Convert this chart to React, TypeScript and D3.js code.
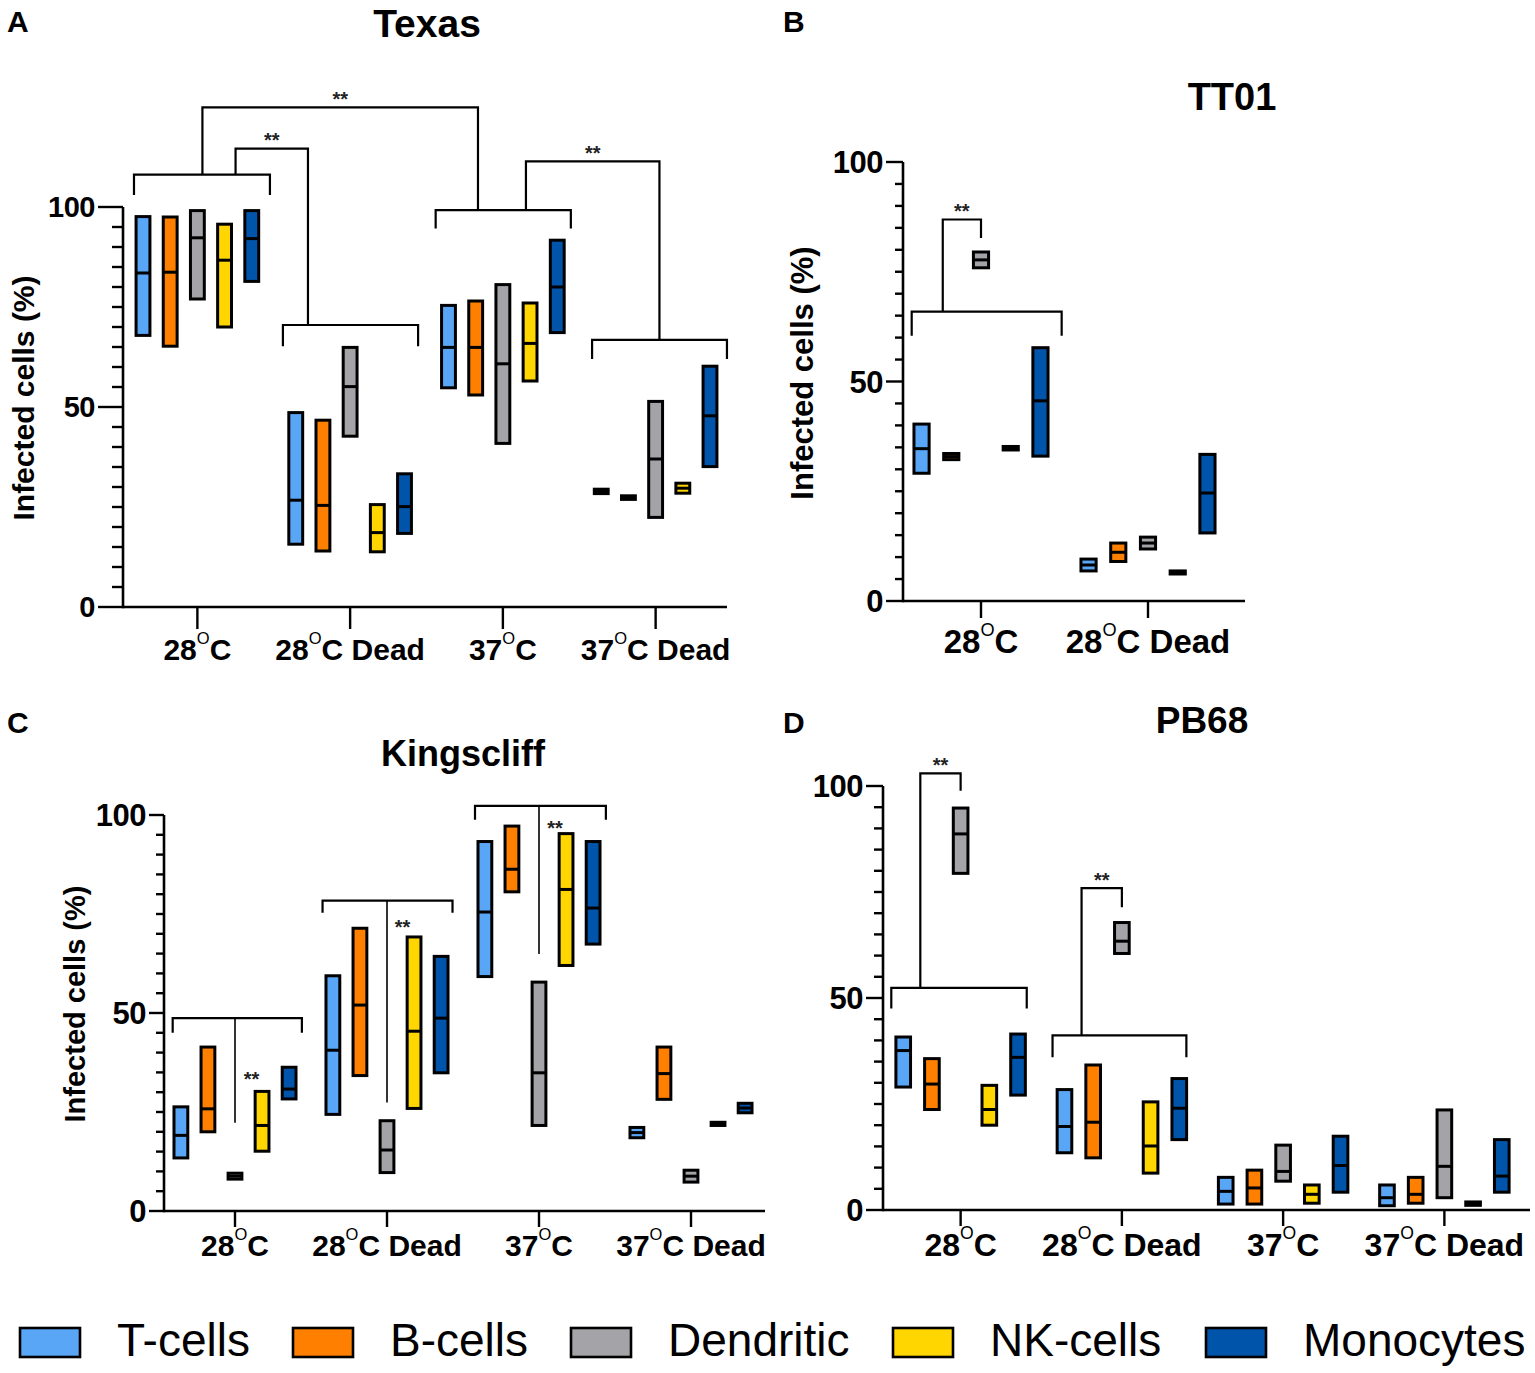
import React from "react";
import * as d3 from "d3";

const FONT = "'Liberation Sans', Arial, Helvetica, sans-serif";

const cellTypes = ["T-cells", "B-cells", "Dendritic", "NK-cells", "Monocytes"];
const cellColors = ["#5AA6F6", "#FF8000", "#A4A4A8", "#FFD600", "#0055AA"];
const conditionLabels = ["28|C", "28|C Dead", "37|C", "37|C Dead"]; // '|' = superscript O
const tt01Labels = ["28|C", "28|C Dead"];
const yTickLabels = [0, 50, 100];

// ---- Texas: [condition][cell type]
const texasLow = [
  [67.9, 65.2, 77.0, 70.0, 81.4],
  [15.7, 14.0, 42.7, 13.8, 18.4],
  [54.8, 53.0, 40.9, 56.5, 68.6],
  [28.35, 26.9, 22.4, 28.45, 35.1],
];
const texasMid = [
  [83.5, 83.7, 92.3, 86.7, 92.1],
  [26.7, 25.4, 55.1, 18.6, 25.1],
  [64.9, 64.9, 60.8, 65.9, 80.0],
  [28.9, 27.35, 37.0, 29.7, 47.8],
];
const texasHigh = [
  [97.6, 97.5, 99.1, 95.7, 99.1],
  [48.6, 46.7, 64.9, 25.6, 33.3],
  [75.4, 76.5, 80.6, 76.0, 91.7],
  [29.45, 27.8, 51.4, 30.95, 60.2],
];

// ---- TT01
const tt01Low = [
  [29.1, 32.2, 75.9, 34.4, 33.0],
  [6.85, 9.0, 11.85, 6.15, 15.5],
];
const tt01Mid = [
  [34.7, 32.9, 77.7, 34.8, 45.6],
  [8.2, 11.1, 13.2, 6.5, 24.6],
];
const tt01High = [
  [40.3, 33.6, 79.5, 35.2, 57.7],
  [9.55, 13.2, 14.55, 6.85, 33.4],
];

// ---- Kingscliff
const kingLow = [
  [13.4, 20.0, 8.05, 15.1, 28.3],
  [24.4, 34.2, 9.7, 25.9, 34.9],
  [59.2, 80.6, 21.6, 62.0, 67.4],
  [18.5, 28.2, 7.3, 21.6, 24.8],
];
const kingMid = [
  [19.1, 25.8, 8.8, 21.6, 30.8],
  [40.6, 52.0, 15.4, 45.4, 48.7],
  [75.5, 86.3, 34.9, 81.2, 76.5],
  [19.8, 34.7, 8.8, 22.0, 26.0],
];
const kingHigh = [
  [26.3, 41.4, 9.55, 30.2, 36.3],
  [59.4, 71.4, 22.8, 69.2, 64.3],
  [93.3, 97.2, 57.8, 95.3, 93.3],
  [21.1, 41.4, 10.3, 22.4, 27.2],
];

// ---- PB68
const pbLow = [
  [29.0, 23.7, 79.4, 20.0, 27.1],
  [13.5, 12.3, 60.5, 8.7, 16.6],
  [1.4, 1.4, 6.8, 1.6, 4.2],
  [1.0, 1.6, 2.9, 1.1, 4.2],
];
const pbMid = [
  [37.6, 29.7, 88.7, 23.7, 36.0],
  [19.7, 20.7, 63.4, 15.1, 24.0],
  [4.4, 5.2, 9.1, 3.7, 10.5],
  [2.9, 3.7, 10.3, 1.5, 8.0],
];
const pbHigh = [
  [40.8, 35.7, 94.8, 29.4, 41.5],
  [28.4, 34.2, 67.8, 25.5, 31.0],
  [7.7, 9.4, 15.3, 5.9, 17.4],
  [5.9, 7.7, 23.6, 1.9, 16.6],
];

// ---- significance annotations (data units; x as fraction of band from category centre)
type Bracket = { cat: number; x0: number; x1: number; y: number; leg: number };
type Link = { fromCat: number; fromX: number; fromY: number; top: number; toCat: number; toX: number; toY: number };
type Stem = { cat: number; from: number; to: number; starX: number; starY: number };

const texasBrackets: Bracket[] = [
  { cat: 0, x0: -0.415, x1: 0.475, y: 108.1, leg: 103 },
  { cat: 1, x0: -0.44, x1: 0.445, y: 70.5, leg: 65.2 },
  { cat: 2, x0: -0.44, x1: 0.445, y: 99.2, leg: 94.6 },
  { cat: 3, x0: -0.416, x1: 0.467, y: 66.8, leg: 62 },
];
const texasLinks: Link[] = [
  { fromCat: 0, fromX: 0.25, fromY: 108.1, top: 114.6, toCat: 1, toX: -0.276, toY: 70.5 },
  { fromCat: 0, fromX: 0.033, fromY: 108.1, top: 124.9, toCat: 2, toX: -0.163, toY: 99.2 },
  { fromCat: 2, fromX: 0.151, fromY: 99.2, top: 111.4, toCat: 3, toX: 0.025, toY: 66.8 },
];
const tt01Brackets: Bracket[] = [{ cat: 0, x0: -0.415, x1: 0.483, y: 65.9, leg: 60.4 }];
const tt01Links: Link[] = [
  { fromCat: 0, fromX: -0.229, fromY: 65.9, top: 86.9, toCat: 0, toX: 0, toY: 82.7 },
];
const kingBrackets: Bracket[] = [
  { cat: 0, x0: -0.41, x1: 0.44, y: 48.7, leg: 45 },
  { cat: 1, x0: -0.424, x1: 0.431, y: 78.4, leg: 75.3 },
  { cat: 2, x0: -0.421, x1: 0.44, y: 102.3, leg: 98.8 },
];
const kingStems: Stem[] = [
  { cat: 0, from: 48.7, to: 22.3, starX: 0.109, starY: 34.5 },
  { cat: 1, from: 78.4, to: 27.4, starX: 0.102, starY: 73 },
  { cat: 2, from: 102.3, to: 64.9, starX: 0.105, starY: 97.9 },
];
const pbBrackets: Bracket[] = [
  { cat: 0, x0: -0.43, x1: 0.41, y: 52.4, leg: 47.5 },
  { cat: 1, x0: -0.43, x1: 0.4, y: 41.2, leg: 36 },
];
const pbLinks: Link[] = [
  { fromCat: 0, fromX: -0.25, fromY: 52.4, top: 103.0, toCat: 0, toX: 0, toY: 98.9 },
  { fromCat: 1, fromX: -0.25, fromY: 41.2, top: 75.9, toCat: 1, toX: 0, toY: 71.4 },
];

// ---- layout
type Layout = {
  band: [number, number];
  axisX: number;
  axisEnd: number;
  y0: number;
  y100: number;
  major: number;
  minor: number;
  tickFont: number;
  catFont: number;
  catBase: number;
  catTick: number;
  title: [number, number, number];
  yLabel: [number, number, number] | null;
  letter: [number, number];
};

type PanelCfg = {
  letter: string;
  title: string;
  cats: string[];
  low: number[][];
  mid: number[][];
  high: number[][];
  brackets: Bracket[];
  links: Link[];
  stems: Stem[];
  layout: Layout;
};

const panels: PanelCfg[] = [
  {
    letter: "A", title: "Texas", cats: conditionLabels,
    low: texasLow, mid: texasMid, high: texasHigh,
    brackets: texasBrackets, links: texasLinks, stems: [],
    layout: {
      band: [121, 732], axisX: 123, axisEnd: 727, y0: 607, y100: 207,
      major: 25, minor: 11, tickFont: 29, catFont: 30, catBase: 660, catTick: 22,
      title: [427, 37, 39], yLabel: [23, 398, 30], letter: [7, 32],
    },
  },
  {
    letter: "B", title: "TT01", cats: tt01Labels,
    low: tt01Low, mid: tt01Mid, high: tt01High,
    brackets: tt01Brackets, links: tt01Links, stems: [],
    layout: {
      band: [897.5, 1231.5], axisX: 903, axisEnd: 1245, y0: 601, y100: 162,
      major: 17, minor: 8, tickFont: 31, catFont: 33, catBase: 653, catTick: 17,
      title: [1232, 110, 38], yLabel: [802, 373, 31], letter: [783, 32],
    },
  },
  {
    letter: "C", title: "Kingscliff", cats: conditionLabels,
    low: kingLow, mid: kingMid, high: kingHigh,
    brackets: kingBrackets, links: [], stems: kingStems,
    layout: {
      band: [159, 767], axisX: 164, axisEnd: 765, y0: 1211, y100: 815,
      major: 15, minor: 8, tickFont: 31, catFont: 30, catBase: 1256, catTick: 16,
      title: [463, 766, 36], yLabel: [75, 1004, 29], letter: [7, 733],
    },
  },
  {
    letter: "D", title: "PB68", cats: conditionLabels,
    low: pbLow, mid: pbMid, high: pbHigh,
    brackets: pbBrackets, links: pbLinks, stems: [],
    layout: {
      band: [880, 1525], axisX: 883, axisEnd: 1530, y0: 1210, y100: 786,
      major: 17, minor: 9, tickFont: 31, catFont: 32, catBase: 1256, catTick: 16,
      title: [1202, 733, 37], yLabel: null, letter: [783, 733],
    },
  },
];

const legendX = [20, 293, 571, 893, 1206];

const STAR_FONT = 20;
const starBaseline = (cy: number) => cy + STAR_FONT * 0.59;

function CatLabel({ x, y, label, size }: { x: number; y: number; label: string; size: number }) {
  const [a, b] = label.split("|");
  const raise = size * 0.52;
  return (
    <text x={x} y={y} textAnchor="middle" fontFamily={FONT} fontWeight="bold" fontSize={size} fill="#000">
      <tspan>{a}</tspan>
      <tspan dy={-raise} fontSize={size * 0.55} fontWeight="normal">O</tspan>
      <tspan dy={raise}>{b}</tspan>
    </text>
  );
}

function Panel({ cfg }: { cfg: PanelCfg }) {
  const L = cfg.layout;
  const x = d3.scaleBand<string>().domain(cfg.cats).range(L.band);
  const bw = x.bandwidth();
  const cx = (i: number) => (x(cfg.cats[i]) as number) + bw / 2;
  const inner = d3
    .scaleBand<string>()
    .domain(cellTypes)
    .range([-0.445 * bw, 0.445 * bw])
    .paddingInner(0.49)
    .paddingOuter(0.245);
  const y = d3.scaleLinear().domain([0, 100]).range([L.y0, L.y100]);
  const ticks = y.ticks(20);
  const ax = (cat: number, f: number) => cx(cat) + f * bw;

  return (
    <g>
      <text x={L.letter[0]} y={L.letter[1]} fontFamily={FONT} fontWeight="bold" fontSize={30}>
        {cfg.letter}
      </text>
      <text x={L.title[0]} y={L.title[1]} textAnchor="middle" fontFamily={FONT} fontWeight="bold" fontSize={L.title[2]}>
        {cfg.title}
      </text>
      {L.yLabel && (
        <text
          transform={`translate(${L.yLabel[0]},${L.yLabel[1]}) rotate(-90)`}
          textAnchor="middle"
          dominantBaseline="central"
          fontFamily={FONT}
          fontWeight="bold"
          fontSize={L.yLabel[2]}
        >
          Infected cells (%)
        </text>
      )}

      {/* y axis */}
      <line x1={L.axisX} x2={L.axisX} y1={y(0) + 1.3} y2={y(100)} stroke="#000" strokeWidth={2.6} />
      {ticks.map((t) => {
        const major = yTickLabels.includes(t);
        return (
          <line
            key={t}
            x1={L.axisX - (major ? L.major : L.minor)}
            x2={L.axisX}
            y1={y(t)}
            y2={y(t)}
            stroke="#000"
            strokeWidth={2.4}
          />
        );
      })}
      {yTickLabels.map((t) => (
        <text
          key={t}
          x={L.axisX - L.major - 3}
          y={y(t)}
          dy="0.36em"
          textAnchor="end"
          fontFamily={FONT}
          fontWeight="bold"
          fontSize={L.tickFont}
          letterSpacing={-0.5}
        >
          {t}
        </text>
      ))}

      {/* x axis */}
      <line x1={L.axisX} x2={L.axisEnd} y1={y(0)} y2={y(0)} stroke="#000" strokeWidth={2.6} />
      {cfg.cats.map((c, i) => (
        <g key={c}>
          <line x1={cx(i)} x2={cx(i)} y1={y(0)} y2={y(0) + L.catTick} stroke="#000" strokeWidth={2.4} />
          <CatLabel x={cx(i)} y={L.catBase} label={c} size={L.catFont} />
        </g>
      ))}

      {/* floating bars (min–max with median line) */}
      {cfg.cats.map((c, ci) =>
        cellTypes.map((t, ti) => {
          const lo = cfg.low[ci][ti];
          const hi = cfg.high[ci][ti];
          const md = cfg.mid[ci][ti];
          const bx = cx(ci) + (inner(t) as number);
          const w = inner.bandwidth();
          return (
            <g key={c + t}>
              <rect
                x={bx}
                y={y(hi)}
                width={w}
                height={y(lo) - y(hi)}
                fill={cellColors[ti]}
                stroke="#000"
                strokeWidth={3}
              />
              <line x1={bx} x2={bx + w} y1={y(md)} y2={y(md)} stroke="#000" strokeWidth={3} />
            </g>
          );
        })
      )}

      {/* brackets */}
      {cfg.brackets.map((b, i) => {
        const x0 = ax(b.cat, b.x0);
        const x1 = ax(b.cat, b.x1);
        const path = d3.path();
        path.moveTo(x0, y(b.leg));
        path.lineTo(x0, y(b.y));
        path.lineTo(x1, y(b.y));
        path.lineTo(x1, y(b.leg));
        return <path key={"b" + i} d={path.toString()} fill="none" stroke="#000" strokeWidth={2.2} />;
      })}
      {cfg.links.map((l, i) => {
        const xa = ax(l.fromCat, l.fromX);
        const xb = ax(l.toCat, l.toX);
        const path = d3.path();
        path.moveTo(xa, y(l.fromY));
        path.lineTo(xa, y(l.top));
        path.lineTo(xb, y(l.top));
        path.lineTo(xb, y(l.toY));
        return (
          <g key={"l" + i}>
            <path d={path.toString()} fill="none" stroke="#000" strokeWidth={2.2} />
            <text
              x={(xa + xb) / 2}
              y={starBaseline(y(l.top) - 13)}
              textAnchor="middle"
              fontFamily={FONT}
              fontWeight="bold"
              fontSize={STAR_FONT}
              fill="#222"
            >
              **
            </text>
          </g>
        );
      })}
      {cfg.stems.map((s, i) => (
        <g key={"s" + i}>
          <line x1={cx(s.cat)} x2={cx(s.cat)} y1={y(s.from)} y2={y(s.to)} stroke="#000" strokeWidth={1.6} />
          <text
            x={ax(s.cat, s.starX)}
            y={starBaseline(y(s.starY))}
            textAnchor="middle"
            fontFamily={FONT}
            fontWeight="bold"
            fontSize={STAR_FONT}
            fill="#222"
          >
            **
          </text>
        </g>
      ))}
    </g>
  );
}

function Legend() {
  return (
    <g>
      {cellTypes.map((t, i) => (
        <g key={t}>
          <rect x={legendX[i]} y={1328} width={60} height={29} fill={cellColors[i]} stroke="#000" strokeWidth={2.6} />
          <text x={legendX[i] + 97} y={1356} fontFamily={FONT} fontSize={46} fill="#000">
            {t}
          </text>
        </g>
      ))}
    </g>
  );
}

export default function App() {
  return (
    <svg
      width={1535}
      height={1373}
      viewBox="0 0 1535 1373"
      style={{ position: "absolute", left: 0, top: 0, background: "#fff" }}
    >
      <rect x={0} y={0} width={1535} height={1373} fill="#fff" />
      {panels.map((p) => (
        <Panel key={p.letter} cfg={p} />
      ))}
      <Legend />
    </svg>
  );
}
